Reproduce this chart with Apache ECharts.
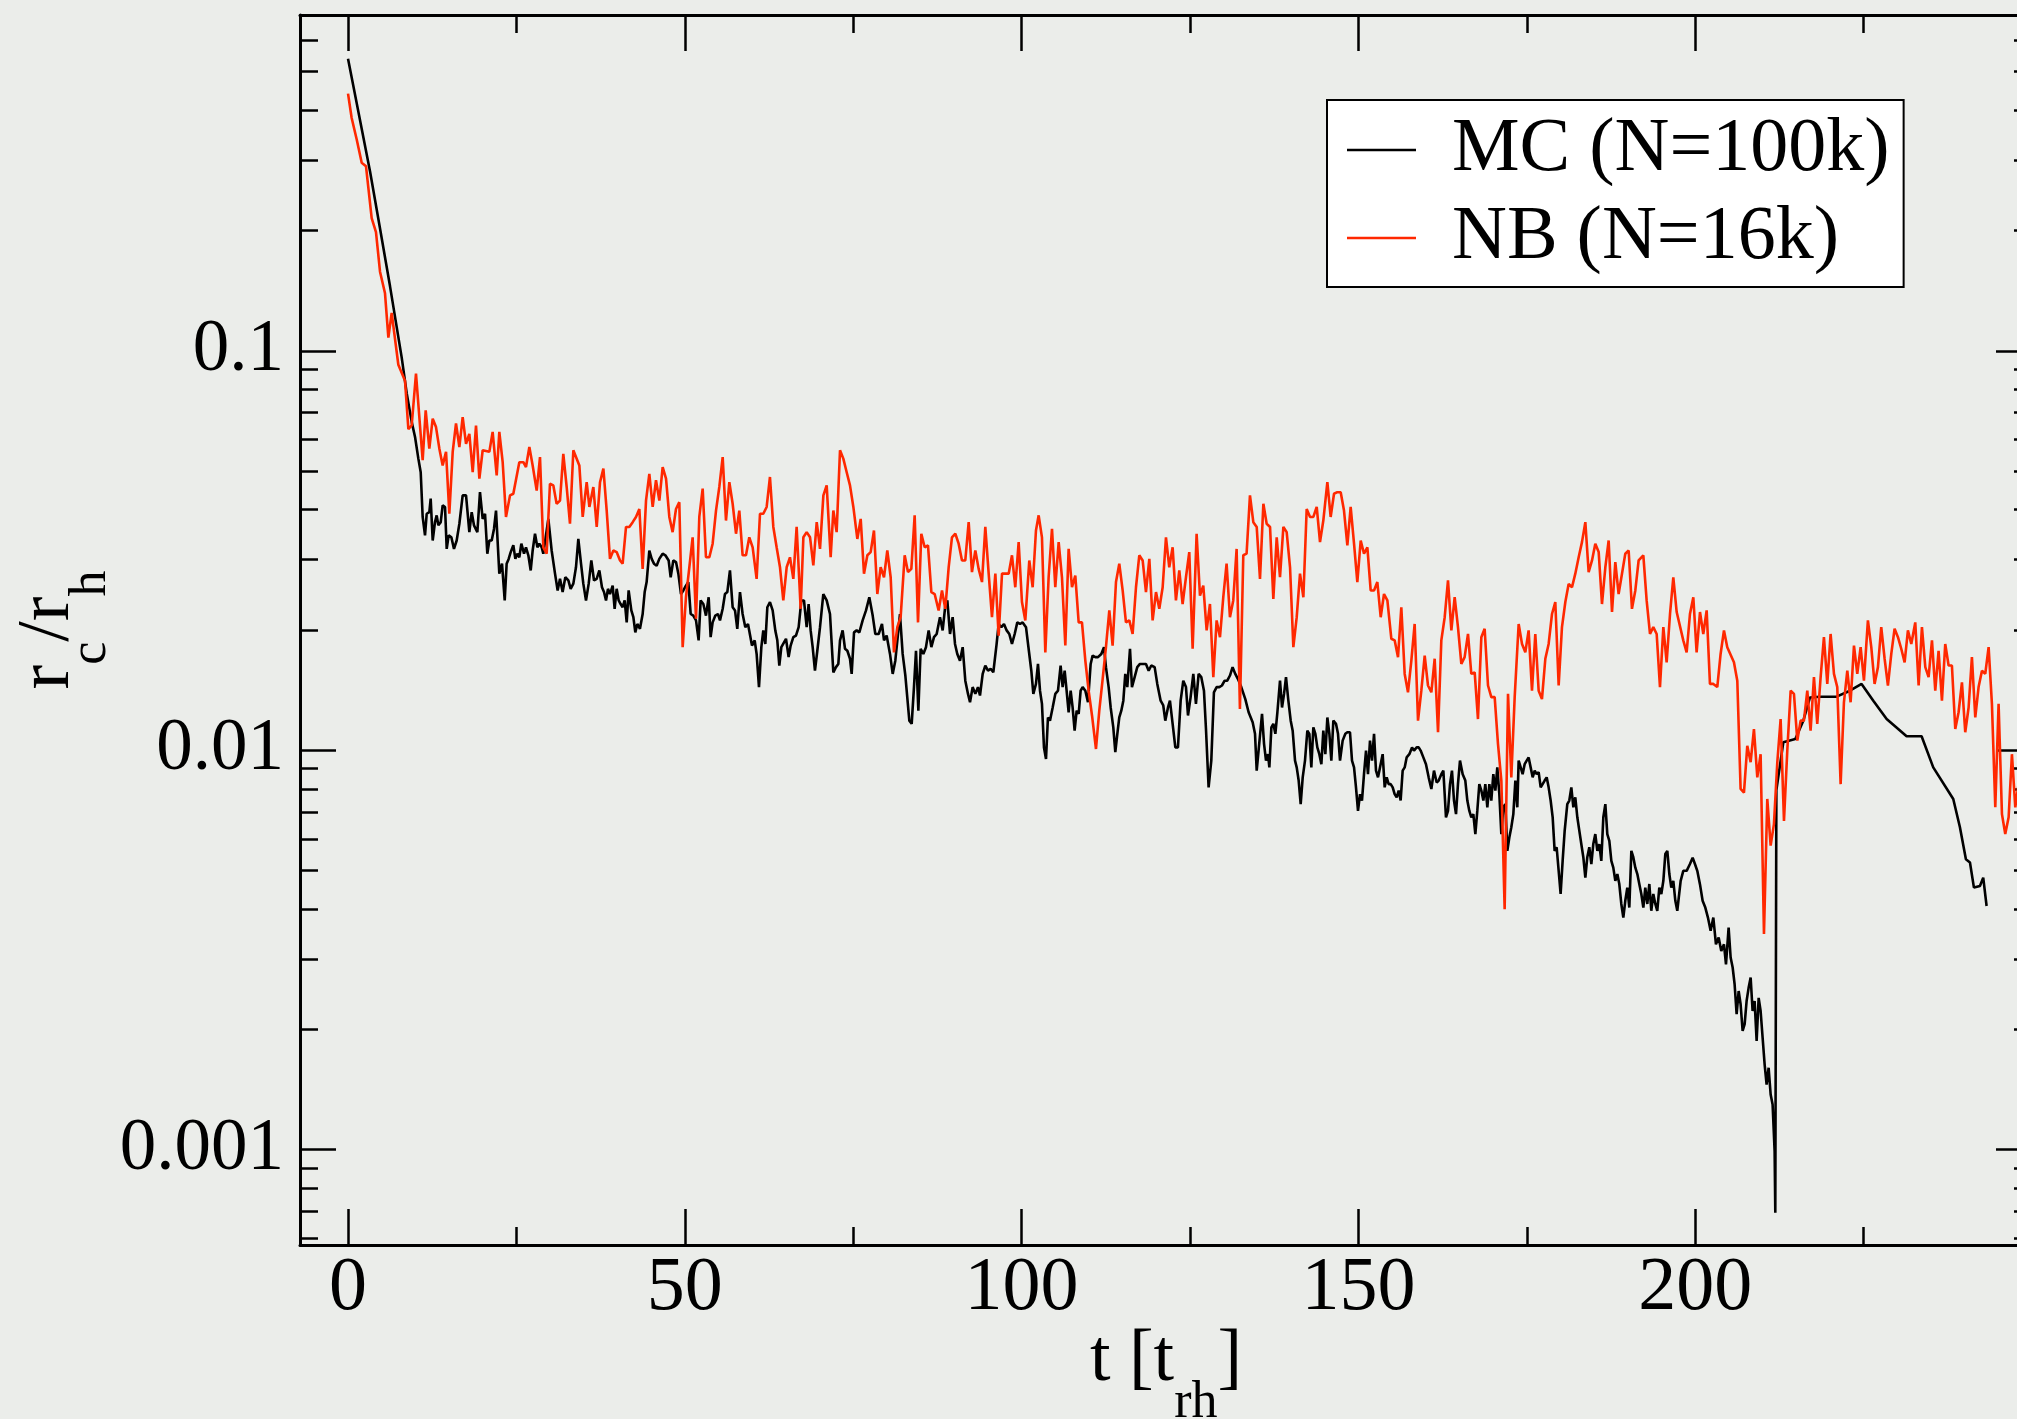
<!DOCTYPE html>
<html>
<head>
<meta charset="utf-8">
<title>Core radius evolution</title>
<script src="https://cdn.jsdelivr.net/npm/echarts@6/dist/echarts.min.js"></script>
<style>
  html, body { margin: 0; padding: 0; background: #ebedea; overflow: hidden; }
  #chart { width: 2040px; height: 1419px; }
</style>
</head>
<body>
<div id="chart"></div>
<script>
// Each point: [t in units of t_rh, log10(r_c / r_h)]
const mcPoints = [
  [0,-0.269],[3.27,-0.551],[4.75,-0.694],[6.23,-0.838],[7.97,-1.017],[8.71,-1.106],
  [9.45,-1.178],[9.95,-1.216],[10.44,-1.270],[10.79,-1.304],[11.08,-1.416],[11.43,-1.462],[11.68,-1.408],[12.07,-1.404],
  [12.27,-1.370],[12.57,-1.475],[12.91,-1.429],[13.16,-1.412],[13.41,-1.437],[13.76,-1.429],[14.05,-1.387],[14.40,-1.391],
  [14.65,-1.496],[14.94,-1.462],[15.34,-1.467],[15.73,-1.496],[16.13,-1.475],[16.53,-1.433],[17.02,-1.362],[17.52,-1.362],
  [18.01,-1.454],[18.36,-1.404],[18.70,-1.437],[19.20,-1.454],[19.59,-1.354],[19.99,-1.421],[20.34,-1.408],[20.68,-1.508],
  [20.98,-1.475],[21.33,-1.475],[21.67,-1.446],[21.97,-1.400],[22.46,-1.558],[22.86,-1.533],[23.26,-1.625],[23.55,-1.533],
  [23.85,-1.521],[24.15,-1.504],[24.54,-1.487],[24.84,-1.521],[25.14,-1.508],[25.43,-1.517],[25.73,-1.483],[26.13,-1.508],
  [26.42,-1.492],[26.77,-1.512],[27.12,-1.550],[27.41,-1.500],[27.76,-1.458],[28.11,-1.492],[28.40,-1.483],[28.75,-1.492],
  [28.99,-1.508],[29.34,-1.467],[29.74,-1.421],[30.23,-1.500],[30.73,-1.558],[31.12,-1.600],[31.47,-1.571],[31.86,-1.604],
  [32.26,-1.567],[32.71,-1.575],[33.05,-1.596],[33.45,-1.583],[33.84,-1.542],[34.19,-1.471],[34.59,-1.533],[34.93,-1.583],
  [35.33,-1.625],[35.73,-1.583],[36.12,-1.525],[36.52,-1.575],[36.91,-1.571],[37.31,-1.550],[37.70,-1.592],[38.00,-1.604],
  [38.30,-1.625],[38.59,-1.596],[38.89,-1.609],[39.29,-1.588],[39.58,-1.646],[39.88,-1.596],[40.18,-1.625],[40.47,-1.634],
  [40.77,-1.642],[41.07,-1.625],[41.37,-1.680],[41.66,-1.600],[42.06,-1.650],[42.36,-1.667],[42.65,-1.705],[42.95,-1.684],
  [43.34,-1.696],[43.74,-1.659],[44.04,-1.604],[44.33,-1.579],[44.73,-1.500],[45.08,-1.521],[45.42,-1.533],[45.82,-1.538],
  [46.21,-1.521],[46.71,-1.508],[47.11,-1.512],[47.60,-1.525],[47.90,-1.567],[48.29,-1.525],[48.69,-1.529],[49.04,-1.558],
  [49.43,-1.609],[49.78,-1.600],[50.17,-1.588],[50.52,-1.579],[50.87,-1.659],[51.26,-1.663],[51.66,-1.675],[52.05,-1.725],
  [52.35,-1.625],[52.75,-1.634],[53.14,-1.663],[53.54,-1.617],[53.83,-1.717],[54.13,-1.680],[54.53,-1.663],[54.92,-1.659],
  [55.22,-1.675],[55.62,-1.646],[55.96,-1.609],[56.31,-1.604],[56.70,-1.550],[57.10,-1.642],[57.45,-1.650],[57.79,-1.696],
  [58.19,-1.604],[58.58,-1.659],[58.98,-1.692],[59.38,-1.684],[59.67,-1.680],[59.97,-1.738],[60.37,-1.725],[60.66,-1.759],
  [61.01,-1.842],[61.36,-1.742],[61.65,-1.700],[61.95,-1.734],[62.25,-1.642],[62.64,-1.629],[63.04,-1.650],[63.43,-1.700],
  [63.73,-1.725],[64.03,-1.788],[64.33,-1.742],[64.62,-1.742],[65.02,-1.721],[65.41,-1.767],[65.71,-1.738],[66.11,-1.717],
  [66.50,-1.713],[66.90,-1.692],[67.30,-1.625],[67.69,-1.625],[68.09,-1.692],[68.38,-1.634],[68.68,-1.700],[68.98,-1.742],
  [69.32,-1.801],[69.67,-1.751],[70.07,-1.692],[70.56,-1.609],[71.06,-1.625],
  [71.55,-1.659],[72.05,-1.805],[72.44,-1.792],[72.79,-1.784],[73.04,-1.725],[73.43,-1.700],[73.78,-1.746],[74.13,-1.751],
  [74.52,-1.771],[74.77,-1.809],[75.12,-1.705],[75.51,-1.700],[75.91,-1.705],[76.40,-1.675],[76.90,-1.650],[77.39,-1.617],
  [77.89,-1.663],[78.28,-1.709],[78.78,-1.709],[79.27,-1.684],[79.57,-1.725],[79.96,-1.713],[80.46,-1.759],[80.86,-1.809],
  [81.25,-1.776],[81.65,-1.709],[81.94,-1.659],[82.34,-1.759],[82.74,-1.813],[83.03,-1.813],[83.33,-1.926],[83.68,-1.934],
  [84.02,-1.842],[84.32,-1.751],[84.67,-1.901],[85.01,-1.746],[85.41,-1.759],[85.80,-1.742],[86.20,-1.700],[86.60,-1.742],
  [86.99,-1.717],[87.39,-1.709],[87.88,-1.667],[88.28,-1.700],[88.67,-1.638],[88.97,-1.625],[89.37,-1.709],[89.76,-1.667],
  [90.11,-1.734],[90.45,-1.759],[90.85,-1.776],[91.25,-1.742],[91.64,-1.826],[92.04,-1.859],[92.34,-1.880],[92.73,-1.842],
  [93.13,-1.859],[93.52,-1.842],[93.82,-1.863],[94.22,-1.809],[94.61,-1.788],[95.01,-1.801],[95.40,-1.796],[95.80,-1.805],
  [96.29,-1.734],[96.59,-1.684],[96.99,-1.692],[97.38,-1.684],[97.78,-1.700],[98.17,-1.709],[98.57,-1.734],[98.97,-1.709],
  [99.36,-1.680],[99.76,-1.684],[100.15,-1.680],[100.65,-1.692],[101.04,-1.746],[101.44,-1.801],[101.74,-1.859],[102.13,-1.834],
  [102.43,-1.784],[102.73,-1.851],[103.02,-1.884],[103.32,-1.993],[103.62,-2.022],[103.91,-1.918],[104.21,-1.926],[104.61,-1.893],
  [105.00,-1.859],[105.40,-1.851],[105.79,-1.788],[106.09,-1.842],[106.39,-1.801],[106.68,-1.851],[106.98,-1.905],[107.28,-1.851],
  [107.57,-1.893],[107.87,-1.951],[108.17,-1.901],[108.47,-1.909],[108.76,-1.851],[109.06,-1.842],[109.46,-1.851],[109.85,-1.880],
  [110.25,-1.784],[110.54,-1.763],[110.94,-1.767],[111.34,-1.767],[111.83,-1.759],[112.23,-1.742],[112.52,-1.792],[112.92,-1.842],
  [113.22,-1.893],[113.61,-1.943],[113.91,-2.005],[114.21,-1.959],[114.50,-1.918],[114.80,-1.901],[115.10,-1.876],[115.39,-1.809],
  [115.69,-1.842],[116.09,-1.746],[116.38,-1.842],[116.78,-1.817],[117.17,-1.792],[117.57,-1.784],[118.07,-1.784],[118.46,-1.784],
  [118.86,-1.801],[119.25,-1.788],[119.75,-1.792],[120.14,-1.834],[120.64,-1.876],[121.03,-1.888],[121.33,-1.926],[121.73,-1.893],
  [122.02,-1.876],[122.42,-1.934],[122.82,-1.993],[123.21,-1.993],[123.61,-1.876],[124.00,-1.826],[124.40,-1.842],[124.70,-1.913],
  [125.09,-1.867],[125.49,-1.809],[125.88,-1.884],[126.28,-1.809],[126.67,-1.817],[127.07,-1.851],[127.37,-1.947],[127.76,-2.093],
  [128.16,-2.026],[128.55,-1.855],[128.95,-1.842],[129.35,-1.842],[129.74,-1.838],[130.14,-1.826],[130.53,-1.826],[130.93,-1.813],
  [131.32,-1.792],[131.72,-1.809],[132.12,-1.822],[132.61,-1.842],[133.21,-1.872],[133.70,-1.905],
  [133.91,-1.909],[134.30,-1.930],[134.65,-1.959],[134.90,-2.051],[135.20,-1.997],[135.49,-2.001],[135.69,-1.909],[135.99,-1.984],
  [136.28,-2.026],[136.58,-2.010],[136.78,-2.043],[137.08,-1.943],[137.37,-1.934],[137.67,-1.959],[137.97,-1.905],[138.36,-1.826],
  [138.66,-1.893],[138.96,-1.859],[139.25,-1.817],[139.60,-1.876],[139.95,-1.926],[140.24,-1.951],[140.59,-2.026],[140.84,-2.043],
  [141.13,-2.076],[141.43,-2.135],[141.73,-2.068],[142.07,-2.026],[142.42,-1.951],[142.72,-1.959],[143.01,-2.043],[143.31,-1.943],
  [143.61,-1.959],[143.90,-1.993],[144.20,-2.010],[144.50,-2.035],[144.79,-1.951],[145.09,-2.010],[145.39,-1.918],[145.69,-1.959],
  [145.98,-2.026],[146.28,-1.926],[146.67,-1.934],[146.97,-1.959],[147.27,-2.026],[147.66,-1.976],[148.06,-1.959],[148.36,-1.955],
  [148.75,-1.955],[149.05,-2.026],[149.35,-2.043],[149.64,-2.093],[149.94,-2.152],[150.24,-2.110],[150.53,-2.126],[150.83,-2.060],
  [151.13,-2.001],[151.42,-2.060],[151.72,-1.976],[152.02,-2.026],[152.32,-1.959],[152.61,-2.051],[152.91,-2.068],[153.21,-2.043],
  [153.60,-2.010],[153.90,-2.093],[154.20,-2.068],[154.49,-2.085],[154.79,-2.085],[155.09,-2.093],[155.38,-2.110],[155.68,-2.118],
  [155.98,-2.101],[156.27,-2.126],[156.57,-2.051],[156.87,-2.043],[157.16,-2.018],[157.56,-2.010],[157.96,-1.993],[158.25,-2.001],
  [158.65,-1.993],[158.95,-1.993],[159.24,-2.001],[159.64,-2.018],[160.03,-2.035],[160.43,-2.068],[160.83,-2.097],[161.22,-2.051],
  [161.62,-2.081],[161.92,-2.076],[162.31,-2.060],[162.61,-2.051],[163.00,-2.168],[163.30,-2.152],[163.60,-2.085],[163.89,-2.051],
  [164.19,-2.126],[164.49,-2.160],[164.78,-2.085],[165.08,-2.026],[165.48,-2.060],[165.87,-2.076],[166.17,-2.126],[166.47,-2.152],
  [166.76,-2.168],[167.06,-2.160],[167.36,-2.210],[167.65,-2.152],[167.95,-2.085],[168.25,-2.101],[168.55,-2.126],[168.84,-2.085],
  [169.14,-2.143],[169.44,-2.085],[169.73,-2.126],[170.03,-2.060],[170.33,-2.101],[170.62,-2.043],[170.92,-2.110],[171.22,-2.210],
  [171.51,-2.143],[171.81,-2.135],[172.11,-2.252],[172.41,-2.218],[172.70,-2.193],[173.00,-2.160],[173.30,-2.076],[173.59,-2.143],
  [173.79,-2.026],[174.09,-2.043],[174.38,-2.060],[174.68,-2.035],[174.98,-2.026],[175.27,-2.018],[175.57,-2.043],[175.87,-2.068],
  [176.17,-2.051],[176.46,-2.060],[176.76,-2.055],[177.06,-2.093],[177.35,-2.085],[177.65,-2.076],[177.95,-2.068],[178.24,-2.093],
  [178.54,-2.126],[178.84,-2.168],[179.13,-2.252],[179.43,-2.243],[179.73,-2.302],[180.02,-2.360],[180.32,-2.277],[180.62,-2.202],
  [181.01,-2.135],[181.31,-2.126],[181.61,-2.093],[181.91,-2.143],[182.20,-2.118],[182.50,-2.168],[182.80,-2.202],[183.09,-2.235],
  [183.39,-2.268],[183.69,-2.319],[183.98,-2.268],[184.28,-2.243],[184.58,-2.285],[184.87,-2.235],[185.17,-2.210],[185.47,-2.252],
  [185.76,-2.235],[186.06,-2.277],[186.36,-2.168],[186.66,-2.135],[186.95,-2.210],[187.25,-2.227],[187.55,-2.277],[187.84,-2.294],
  [188.14,-2.327],[188.44,-2.310],[188.73,-2.335],[189.03,-2.385],[189.33,-2.419],[189.62,-2.377],[189.92,-2.344],[190.22,-2.394],
  [190.52,-2.252],[190.81,-2.268],[191.11,-2.294],[191.41,-2.310],[191.70,-2.335],[192.00,-2.360],[192.30,-2.394],[192.59,-2.344],
  [192.89,-2.385],[193.19,-2.335],[193.48,-2.402],[193.78,-2.360],[194.08,-2.385],[194.37,-2.402],[194.67,-2.344],[194.97,-2.360],
  [195.27,-2.327],[195.56,-2.260],[195.86,-2.252],[196.16,-2.310],[196.45,-2.344],[196.75,-2.327],[197.05,-2.377],[197.34,-2.402],
  [197.84,-2.327],[198.23,-2.302],[198.73,-2.302],[199.22,-2.285],[199.62,-2.269],[199.96,-2.285],[200.31,-2.302],[200.71,-2.336],
  [201.10,-2.377],[201.50,-2.394],[201.89,-2.419],[202.29,-2.452],[202.69,-2.419],[203.08,-2.486],[203.48,-2.469],[203.87,-2.503],
  [204.27,-2.486],[204.57,-2.536],[204.96,-2.444],[205.26,-2.519],[205.56,-2.544],[205.85,-2.586],[206.15,-2.661],[206.45,-2.603],
  [206.74,-2.636],[207.04,-2.703],[207.34,-2.686],[207.63,-2.628],[207.93,-2.595],[208.23,-2.569],[208.52,-2.653],[208.82,-2.628],
  [209.12,-2.728],[209.42,-2.620],[209.71,-2.653],[210.01,-2.720],[210.31,-2.787],[210.60,-2.837],[210.90,-2.795],[211.20,-2.862],
  [211.49,-2.887],[211.79,-3.004],[211.89,-3.158],
  [212.05,-2.100],[213.08,-1.980],[214.86,-1.972],[216.05,-1.926],[217.04,-1.868],[218.52,-1.866],[220.99,-1.866],[222.97,-1.851],
  [224.70,-1.834],[226.44,-1.876],[228.42,-1.922],[231.38,-1.965],[233.61,-1.965],[235.34,-2.043],[238.31,-2.122],[239.30,-2.193],
  [240.19,-2.273],[240.79,-2.281],[241.38,-2.344],[242.27,-2.340],[242.76,-2.319],[243.26,-2.390]
];

const nbPoints = [
  [0,-0.356],[0.54,-0.417],[1.29,-0.471],[2.03,-0.529],[2.67,-0.538],[3.51,-0.668],[4.15,-0.703],[4.75,-0.802],
  [5.49,-0.856],[5.99,-0.967],[6.48,-0.905],[7.47,-1.035],[8.46,-1.075],[8.96,-1.196],[9.45,-1.187],[10.09,-1.057],
  [11.08,-1.274],[11.53,-1.149],[12.07,-1.245],[12.57,-1.170],[13.06,-1.191],[13.56,-1.245],[14.05,-1.287],[14.55,-1.253],
  [15.04,-1.408],[15.54,-1.253],[16.03,-1.182],[16.53,-1.241],[17.02,-1.166],[17.52,-1.233],[18.01,-1.208],[18.51,-1.304],
  [19.00,-1.187],[19.50,-1.320],[19.99,-1.249],[20.98,-1.253],[21.47,-1.203],[22.07,-1.312],[22.46,-1.203],[22.96,-1.279],
  [23.45,-1.416],[24.05,-1.362],[24.54,-1.358],[25.43,-1.279],[26.03,-1.279],[26.42,-1.291],[26.92,-1.241],[27.41,-1.287],
  [28.01,-1.350],[28.50,-1.266],[28.99,-1.492],[29.49,-1.508],[29.98,-1.333],[30.48,-1.337],[30.97,-1.383],[31.47,-1.375],
  [31.96,-1.258],[32.46,-1.341],[32.95,-1.433],[33.45,-1.249],[34.34,-1.287],[34.84,-1.416],[35.43,-1.329],[35.83,-1.391],
  [36.42,-1.341],[36.92,-1.441],[37.41,-1.329],[37.91,-1.295],[38.40,-1.400],[38.89,-1.521],[39.39,-1.500],[39.88,-1.504],
  [40.38,-1.525],[40.77,-1.533],[41.27,-1.441],[41.76,-1.441],[42.26,-1.429],[42.75,-1.416],[43.25,-1.396],[43.74,-1.546],
  [44.24,-1.375],[44.73,-1.308],[45.23,-1.391],[45.72,-1.324],[46.22,-1.375],[46.71,-1.291],[47.21,-1.320],[47.70,-1.416],
  [48.19,-1.454],[48.69,-1.396],[49.18,-1.379],[49.68,-1.742],[50.17,-1.617],[50.67,-1.542],[51.16,-1.467],[51.66,-1.671],
  [52.15,-1.416],[52.65,-1.345],[53.14,-1.517],[53.64,-1.517],[54.13,-1.483],[54.63,-1.400],[55.12,-1.341],[55.62,-1.266],
  [56.11,-1.425],[56.61,-1.329],[57.10,-1.383],[57.60,-1.458],[58.09,-1.400],[58.58,-1.512],[59.08,-1.512],[59.57,-1.467],
  [60.07,-1.492],[60.66,-1.571],[61.16,-1.408],[61.65,-1.408],[62.15,-1.391],[62.64,-1.316],[63.14,-1.441],[63.63,-1.492],
  [64.13,-1.542],[64.62,-1.625],[65.12,-1.542],[65.61,-1.517],[66.11,-1.571],[66.60,-1.441],[67.20,-1.646],[67.60,-1.467],
  [68.09,-1.454],[68.59,-1.467],[69.08,-1.537],[69.58,-1.429],[70.07,-1.496],[70.57,-1.362],[71.06,-1.337],
  [71.65,-1.517],[72.05,-1.400],[72.54,-1.454],[73.04,-1.249],[73.53,-1.270],[74.03,-1.304],[74.52,-1.337],[75.02,-1.391],
  [75.61,-1.471],[76.11,-1.421],[76.60,-1.558],[77.10,-1.512],[77.59,-1.504],[78.08,-1.450],[78.58,-1.609],[79.07,-1.542],
  [79.57,-1.567],[80.06,-1.500],[80.56,-1.567],[81.05,-1.755],[81.55,-1.692],[82.04,-1.667],[82.64,-1.512],[83.13,-1.554],
  [83.63,-1.546],[84.12,-1.412],[84.62,-1.680],[85.11,-1.458],[85.61,-1.492],[86.10,-1.487],[86.60,-1.604],[87.09,-1.609],
  [87.68,-1.650],[88.18,-1.600],[88.67,-1.646],[89.17,-1.542],[89.66,-1.467],[90.16,-1.458],[90.65,-1.483],[91.15,-1.525],
  [91.64,-1.525],[92.14,-1.429],[92.63,-1.554],[93.13,-1.500],[93.62,-1.546],[94.12,-1.579],[94.61,-1.441],[95.11,-1.558],
  [95.60,-1.667],[96.10,-1.558],[96.59,-1.713],[97.09,-1.558],[98.08,-1.558],[98.57,-1.512],[99.06,-1.592],[99.56,-1.479],
  [100.05,-1.629],[100.55,-1.675],[101.14,-1.525],[101.64,-1.592],[102.13,-1.450],[102.53,-1.412],[103.02,-1.467],[103.52,-1.755],
  [104.01,-1.567],[104.51,-1.446],[105.00,-1.592],[105.50,-1.479],[105.99,-1.567],[106.49,-1.738],[106.98,-1.496],[107.48,-1.592],
  [107.97,-1.563],[108.47,-1.680],[108.96,-1.680],[109.46,-1.776],[109.95,-1.851],[110.45,-1.913],[111.04,-1.997],[111.53,-1.901],
  [112.03,-1.822],[112.52,-1.742],[113.02,-1.650],[113.51,-1.738],[114.01,-1.579],[114.50,-1.533],[115.00,-1.600],[115.49,-1.680],
  [115.99,-1.675],[116.48,-1.709],[116.98,-1.592],[117.47,-1.512],[117.97,-1.525],[118.46,-1.604],[118.96,-1.521],[119.45,-1.675],
  [119.95,-1.604],[120.44,-1.646],[120.94,-1.592],[121.43,-1.467],[121.92,-1.542],[122.42,-1.492],[122.91,-1.625],[123.41,-1.550],
  [123.90,-1.634],[124.40,-1.567],[124.89,-1.504],[125.39,-1.746],[125.98,-1.458],[126.48,-1.613],[126.97,-1.588],[127.47,-1.700],
  [127.96,-1.634],[128.46,-1.817],[128.95,-1.675],[129.45,-1.717],[129.94,-1.617],[130.43,-1.533],[130.93,-1.667],[131.42,-1.625],
  [131.92,-1.496],[132.41,-1.897],[132.91,-1.512],[133.40,-1.508],[133.90,-1.362],
  [134.40,-1.429],[134.90,-1.441],[135.39,-1.571],[135.89,-1.383],[136.38,-1.433],[136.88,-1.441],[137.37,-1.621],[137.87,-1.467],
  [138.36,-1.567],[138.86,-1.441],[139.35,-1.454],[139.85,-1.542],[140.34,-1.742],[140.84,-1.667],[141.33,-1.558],[141.83,-1.617],
  [142.32,-1.396],[142.82,-1.416],[143.31,-1.416],[143.81,-1.391],[144.30,-1.479],[144.79,-1.425],[145.39,-1.329],[145.88,-1.416],
  [146.38,-1.358],[146.87,-1.354],[147.37,-1.354],[147.86,-1.400],[148.36,-1.487],[148.85,-1.391],[149.35,-1.483],[149.84,-1.579],
  [150.34,-1.475],[150.83,-1.508],[151.33,-1.492],[151.82,-1.600],[152.32,-1.600],[152.81,-1.579],[153.31,-1.667],[153.80,-1.609],
  [154.30,-1.625],[154.89,-1.721],[155.38,-1.725],[155.88,-1.767],[156.37,-1.642],[156.87,-1.809],[157.36,-1.855],[157.86,-1.776],
  [158.35,-1.684],[158.85,-1.926],[159.34,-1.851],[159.84,-1.763],[160.33,-1.838],[160.83,-1.855],[161.32,-1.771],[161.82,-1.955],
  [162.31,-1.725],[162.81,-1.667],[163.30,-1.575],[163.80,-1.700],[164.29,-1.617],[164.78,-1.692],[165.28,-1.784],[165.77,-1.767],
  [166.27,-1.709],[166.76,-1.809],[167.26,-1.805],[167.75,-1.922],[168.25,-1.717],[168.74,-1.696],[169.24,-1.838],[169.73,-1.867],
  [170.23,-1.867],[170.72,-1.984],[171.22,-2.076],[171.71,-2.398],[172.21,-1.859],[172.70,-2.068],[173.20,-1.867],[173.79,-1.684],
  [174.29,-1.734],[174.78,-1.755],[175.27,-1.700],[175.77,-1.851],[176.26,-1.709],[176.76,-1.851],[177.25,-1.872],[177.75,-1.771],
  [178.24,-1.734],[178.74,-1.659],[179.23,-1.629],[179.73,-1.838],[180.22,-1.692],[180.72,-1.629],[181.21,-1.584],[181.71,-1.592],
  [182.20,-1.558],[182.70,-1.517],[183.19,-1.479],[183.69,-1.429],[184.18,-1.554],[184.68,-1.525],[185.17,-1.483],[185.67,-1.504],
  [186.16,-1.634],[186.66,-1.542],[187.15,-1.475],[187.65,-1.654],[188.14,-1.529],[188.63,-1.609],[189.13,-1.558],[189.62,-1.508],
  [190.12,-1.500],[190.61,-1.646],[191.11,-1.600],[191.60,-1.525],[192.30,-1.512],[192.79,-1.625],[193.29,-1.709],[193.78,-1.692],
  [194.28,-1.709],[194.77,-1.842],[195.27,-1.692],[195.76,-1.780],[196.26,-1.659],[196.75,-1.567],[197.25,-1.654],
  [198.23,-1.725],[198.73,-1.755],[199.22,-1.659],[199.72,-1.617],[200.21,-1.755],[200.71,-1.654],[201.20,-1.709],[201.70,-1.650],
  [202.19,-1.834],[202.69,-1.834],[203.28,-1.842],[203.77,-1.759],[204.27,-1.700],[204.76,-1.742],[205.75,-1.780],[206.25,-1.826],
  [206.74,-2.097],[207.24,-2.106],[207.73,-1.989],[208.23,-2.030],[208.72,-1.947],[209.22,-2.068],[209.71,-2.010],[210.21,-2.460],
  [210.70,-2.122],[211.20,-2.239],[211.69,-2.185],[212.19,-2.030],[212.68,-1.922],[213.18,-2.177],[213.67,-2.001],[214.17,-1.851],
  [214.66,-1.859],[215.16,-1.976],[215.65,-1.926],[216.14,-1.926],[216.64,-1.851],[217.13,-1.951],[217.63,-1.817],[218.12,-1.934],
  [218.62,-1.817],[219.11,-1.717],[219.61,-1.834],[220.10,-1.709],[220.60,-1.809],[221.09,-1.842],[221.59,-2.085],[222.08,-1.880],
  [222.58,-1.801],[223.07,-1.880],[223.57,-1.738],[224.06,-1.809],[224.56,-1.742],[225.05,-1.826],[225.64,-1.675],[226.14,-1.742],
  [226.63,-1.834],[227.13,-1.792],[227.62,-1.692],[228.12,-1.771],[228.61,-1.838],[229.11,-1.759],[229.60,-1.696],[230.10,-1.717],
  [230.59,-1.746],[231.09,-1.780],[231.58,-1.700],[232.08,-1.734],[232.67,-1.680],[233.17,-1.838],[233.66,-1.692],[234.16,-1.792],
  [234.65,-1.817],[235.15,-1.725],[235.64,-1.851],[236.13,-1.751],[236.63,-1.876],[237.12,-1.734],[237.62,-1.788],[238.11,-1.788],
  [238.61,-1.947],[239.10,-1.905],[239.60,-1.830],[240.09,-1.955],[240.59,-1.893],[241.08,-1.767],[241.58,-1.918],[242.07,-1.842],
  [242.57,-1.801],[243.06,-1.809],[243.56,-1.742],[244.05,-1.884],[244.55,-2.143],[245.04,-1.884],[245.54,-2.160],[246.03,-2.210],
  [246.53,-2.168],[247.02,-2.010],[247.52,-2.143],[248.00,-2.085]
];

const seriesNames = ['MC (N=100k)', 'NB (N=16k)'];
const seriesColors = ['#000000', '#ff2800'];

const xRange = [-7.13, 250];
const xMajorTicks = [0, 50, 100, 150, 200, 250];
const xLabelValues = [0, 50, 100, 150, 200];
const xMinorTicks = [25, 75, 125, 175, 225];

const yRange = [0.000577, 0.693];
const yMajorTicks = [0.001, 0.01, 0.1];
const yTickLabels = ['0.001', '0.01', '0.1'];
const yMinorTicks = [
  0.0006, 0.0007, 0.0008, 0.0009,
  0.002, 0.003, 0.004, 0.005, 0.006, 0.007, 0.008, 0.009,
  0.02, 0.03, 0.04, 0.05, 0.06, 0.07, 0.08, 0.09,
  0.2, 0.3, 0.4, 0.5, 0.6
];

const FONT = '"Liberation Serif", "Times New Roman", Times, serif';
const X_TICK_FONT_SIZE = 76;
const Y_TICK_FONT_SIZE = 73;
const TITLE_FONT_SIZE = 74;
const SUB_FONT_SIZE = 52;
const SUB_DROP = 35;

const GRID = { left: 300, top: 15, width: 1732, height: 1230 };

const frameLine = { show: true, onZero: false, lineStyle: { color: '#000', width: 3 } };
const noLine = { show: false, onZero: false };

function makeAxisX(position, ticks, tickLen, withLine, labels) {
  return {
    type: 'value', gridIndex: 0, position: position,
    min: xRange[0], max: xRange[1],
    axisLine: withLine ? frameLine : noLine,
    axisTick: { show: true, inside: true, length: tickLen, customValues: ticks,
                lineStyle: { color: '#000', width: 2.5 } },
    axisLabel: labels ? { show: true, customValues: labels, fontFamily: FONT,
                          fontSize: X_TICK_FONT_SIZE, color: '#000', margin: 6 }
                      : { show: false },
    splitLine: { show: false }, minorTick: { show: false }, minorSplitLine: { show: false }
  };
}

function yLabelText(v) {
  for (let i = 0; i < yMajorTicks.length; i++) {
    if (Math.abs(yMajorTicks[i] - v) / yMajorTicks[i] < 1e-6) return yTickLabels[i];
  }
  return '';
}

function makeAxisY(position, ticks, tickLen, withLine, labels) {
  return {
    type: 'log', logBase: 10, gridIndex: 0, position: position,
    min: yRange[0], max: yRange[1],
    axisLine: withLine ? frameLine : noLine,
    axisTick: { show: true, inside: true, length: tickLen, customValues: ticks,
                lineStyle: { color: '#000', width: 2.5 } },
    axisLabel: labels ? { show: true, customValues: labels, formatter: yLabelText,
                          fontFamily: FONT, fontSize: Y_TICK_FONT_SIZE, color: '#000', margin: 16 }
                      : { show: false },
    splitLine: { show: false }, minorTick: { show: false }, minorSplitLine: { show: false }
  };
}

// Axis titles with subscripts, laid out piece by piece along a baseline
const measureCtx = document.createElement('canvas').getContext('2d');
function textWidth(str, size) {
  measureCtx.font = size + 'px ' + FONT;
  return measureCtx.measureText(str).width;
}
function subscriptTitle(parts) {
  const sizes = parts.map(p => p.sub ? SUB_FONT_SIZE : TITLE_FONT_SIZE);
  const widths = parts.map((p, i) => textWidth(p.text, sizes[i]));
  const total = widths.reduce((a, b) => a + b, 0);
  let cursor = -total / 2;
  return parts.map((p, i) => {
    const el = {
      type: 'text',
      x: cursor,
      y: (p.sub ? SUB_DROP : 0) - 0.3375 * sizes[i],
      style: { text: p.text, font: sizes[i] + 'px ' + FONT, fill: '#000',
               align: 'left', verticalAlign: 'middle' }
    };
    cursor += widths[i];
    return el;
  });
}

const xTitleParts = [{ text: 't [t', sub: false }, { text: 'rh', sub: true }, { text: ']', sub: false }];
const yTitleParts = [{ text: 'r', sub: false }, { text: 'c', sub: true }, { text: '/r', sub: false }, { text: 'h', sub: true }];

const chart = echarts.init(document.getElementById('chart'), null, { renderer: 'canvas' });

chart.setOption({
  animation: false,
  backgroundColor: '#ebedea',
  grid: Object.assign({ containLabel: false, outerBoundsMode: 'none' }, GRID),
  xAxis: [
    makeAxisX('bottom', xMajorTicks, 36, true, xLabelValues),
    makeAxisX('bottom', xMinorTicks, 18, false, null),
    makeAxisX('top', xMajorTicks, 36, true, null),
    makeAxisX('top', xMinorTicks, 18, false, null)
  ],
  yAxis: [
    makeAxisY('left', yMajorTicks, 36, true, yMajorTicks),
    makeAxisY('left', yMinorTicks, 18, false, null),
    makeAxisY('right', yMajorTicks, 36, true, null),
    makeAxisY('right', yMinorTicks, 18, false, null)
  ],
  legend: {
    left: 1327, top: 100, orient: 'vertical',
    data: seriesNames,
    icon: 'rect',
    backgroundColor: '#ffffff', borderColor: '#000000', borderWidth: 2, borderRadius: 0,
    padding: [12, 14, 11, 20], itemGap: 12, itemWidth: 69, itemHeight: 2.5,
    selectedMode: false,
    textStyle: { fontFamily: FONT, fontSize: 76, color: '#000', padding: [0, 0, 0, 31] }
  },
  graphic: [
    { type: 'group', x: 1166, y: 1386, children: subscriptTitle(xTitleParts) },
    { type: 'group', x: 74, y: 630, rotation: Math.PI / 2, children: subscriptTitle(yTitleParts) }
  ],
  series: [mcPoints, nbPoints].map((pts, i) => ({
    name: seriesNames[i],
    type: 'line',
    xAxisIndex: 0, yAxisIndex: 0,
    data: pts.map(p => [p[0], Math.pow(10, p[1])]),
    symbol: 'none', showSymbol: false,
    lineStyle: { color: seriesColors[i], width: 2.6 },
    itemStyle: { color: seriesColors[i] },
    clip: true
  }))
});
</script>
</body>
</html>
